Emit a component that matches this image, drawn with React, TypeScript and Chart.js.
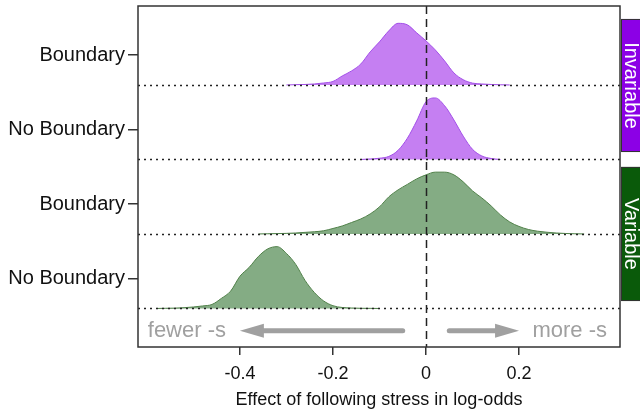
import React, { useEffect, useRef } from "react";
import { Chart, registerables } from "chart.js";

Chart.register(...registerables);

// ---- data ----
const ROW_LABELS = ["No Boundary", "Boundary", "No Boundary", "Boundary"]; // bottom -> top
const ROW_BASELINES = [0, 1, 2, 3];
const ROW_LABEL_POS = [0.4, 1.4, 2.4, 3.4];
const X_TICKS = [-0.4, -0.2, 0, 0.2];
const X_TICK_LABELS = ["-0.4", "-0.2", "0", "0.2"];

// Invariable, Boundary (row 3)
const invBoundaryX = [-0.3, -0.28, -0.26, -0.24, -0.22, -0.2, -0.18, -0.16, -0.14, -0.12, -0.1, -0.08, -0.06, -0.04, -0.02, 0, 0.02, 0.04, 0.06, 0.08, 0.1, 0.12, 0.14, 0.16, 0.18];
const invBoundaryD = [0, 0.005, 0.008, 0.016, 0.032, 0.057, 0.146, 0.227, 0.34, 0.535, 0.697, 0.875, 0.997, 0.972, 0.843, 0.713, 0.567, 0.389, 0.195, 0.085, 0.03, 0.016, 0.008, 0.003, 0];

// Invariable, No Boundary (row 2)
const invNoBoundaryX = [-0.14, -0.12, -0.1, -0.08, -0.06, -0.04, -0.02, 0, 0.02, 0.04, 0.06, 0.08, 0.1, 0.12, 0.14, 0.16];
const invNoBoundaryD = [0, 0.008, 0.02, 0.049, 0.148, 0.344, 0.623, 0.934, 0.995, 0.869, 0.639, 0.377, 0.164, 0.057, 0.016, 0];

// Variable, Boundary (row 1)
const varBoundaryX = [-0.36, -0.34, -0.32, -0.3, -0.28, -0.26, -0.24, -0.22, -0.2, -0.18, -0.16, -0.14, -0.12, -0.1, -0.08, -0.06, -0.04, -0.02, 0, 0.02, 0.04, 0.06, 0.08, 0.1, 0.12, 0.14, 0.16, 0.18, 0.2, 0.22, 0.24, 0.26, 0.28, 0.3, 0.32, 0.34];
const varBoundaryD = [0, 0.003, 0.006, 0.01, 0.016, 0.026, 0.036, 0.052, 0.089, 0.13, 0.186, 0.243, 0.324, 0.438, 0.6, 0.713, 0.802, 0.891, 0.956, 1, 1, 0.956, 0.843, 0.697, 0.583, 0.454, 0.308, 0.194, 0.122, 0.073, 0.045, 0.028, 0.016, 0.008, 0.003, 0];

// Variable, No Boundary (row 0)
const varNoBoundaryX = [-0.58, -0.56, -0.54, -0.52, -0.5, -0.48, -0.46, -0.44, -0.42, -0.4, -0.38, -0.36, -0.34, -0.32, -0.3, -0.28, -0.26, -0.24, -0.22, -0.2, -0.18, -0.16, -0.14, -0.12, -0.1];
const varNoBoundaryD = [0, 0.003, 0.006, 0.013, 0.024, 0.041, 0.065, 0.162, 0.28, 0.52, 0.665, 0.843, 0.964, 1, 0.891, 0.713, 0.454, 0.259, 0.122, 0.045, 0.016, 0.008, 0.003, 0.002, 0];

const FACETS = ["Invariable", "Variable"];
const FACET_SPANS = [[2.1, 3.886], [0.1, 1.9]];
const ARROW_Y = -0.3;
const LEFT_ARROW = [-0.05, -0.4];
const RIGHT_ARROW = [0.05, 0.2];
const FEWER_X = -0.598;
const MORE_X = 0.389;

const X_MIN = -0.619;
const X_MAX = 0.417;
const Y_MIN = -0.517;
const Y_MAX = 4.06;
const SCALE = 0.83;

const PURPLE_FILL = "rgba(140,0,230,0.5)";
const PURPLE_LINE = "#a24ee8";
const PURPLE_STRIP = "#8c00e6";
const GREEN_FILL = "rgba(10,90,10,0.5)";
const GREEN_LINE = "#4f8048";
const GREEN_STRIP = "#0a5a0a";
const FONT = "'Liberation Sans', Arial, Helvetica, sans-serif";

function ridge(xs: number[], ds: number[], base: number) {
  return xs.map((x, i) => ({ x, y: base + ds[i] * SCALE }));
}

const decor = {
  id: "ridgeDecor",
  afterDatasetsDraw(chart: any) {
    const { ctx, chartArea: a, scales } = chart;
    const xs = scales.x;
    const ys = scales.y;
    ctx.save();
    // dotted baselines
    ctx.setLineDash([2, 4]);
    ctx.lineWidth = 1.5;
    ctx.strokeStyle = "#222";
    for (const b of ROW_BASELINES) {
      const y = Math.round(ys.getPixelForValue(b)) + 0.5;
      ctx.beginPath();
      ctx.moveTo(a.left, y);
      ctx.lineTo(a.right, y);
      ctx.stroke();
    }
    // dashed zero line
    ctx.setLineDash([8, 5]);
    ctx.lineWidth = 1.5;
    const x0 = Math.round(xs.getPixelForValue(0)) + 0.5;
    ctx.beginPath();
    ctx.moveTo(x0, a.top);
    ctx.lineTo(x0, a.bottom);
    ctx.stroke();
    ctx.setLineDash([]);

    // arrows
    const ay = ys.getPixelForValue(ARROW_Y);
    const drawArrow = (from: number, to: number) => {
      const fx = xs.getPixelForValue(from);
      const tx = xs.getPixelForValue(to);
      const dir = Math.sign(tx - fx);
      const headLen = 24;
      ctx.strokeStyle = "#a0a0a0";
      ctx.fillStyle = "#a0a0a0";
      ctx.lineWidth = 5;
      ctx.lineCap = "round";
      ctx.beginPath();
      ctx.moveTo(fx, ay);
      ctx.lineTo(tx - dir * headLen * 0.8, ay);
      ctx.stroke();
      ctx.beginPath();
      ctx.moveTo(tx, ay);
      ctx.lineTo(tx - dir * headLen, ay - 7);
      ctx.lineTo(tx - dir * headLen, ay + 7);
      ctx.closePath();
      ctx.fill();
    };
    drawArrow(LEFT_ARROW[0], LEFT_ARROW[1]);
    drawArrow(RIGHT_ARROW[0], RIGHT_ARROW[1]);
    ctx.fillStyle = "#a0a0a0";
    ctx.font = `22px ${FONT}`;
    ctx.textBaseline = "middle";
    ctx.textAlign = "left";
    ctx.fillText("fewer -s", xs.getPixelForValue(FEWER_X), ay);
    ctx.textAlign = "right";
    ctx.fillText("more -s", xs.getPixelForValue(MORE_X), ay);

    // frame
    ctx.strokeStyle = "#333";
    ctx.lineWidth = 1.5;
    ctx.strokeRect(a.left, a.top, a.right - a.left, a.bottom - a.top);

    // facet strips
    FACETS.forEach((name, i) => {
      const [lo, hi] = FACET_SPANS[i];
      const top = ys.getPixelForValue(hi);
      const bot = ys.getPixelForValue(lo);
      const left = a.right + 1;
      const w = 26;
      ctx.fillStyle = i === 0 ? PURPLE_STRIP : GREEN_STRIP;
      ctx.fillRect(left, top, w, bot - top);
      ctx.strokeStyle = "#333";
      ctx.lineWidth = 1;
      ctx.strokeRect(left + 0.5, top + 0.5, w, bot - top - 1);
      ctx.save();
      ctx.translate(left + 10, (top + bot) / 2);
      ctx.rotate(Math.PI / 2);
      ctx.fillStyle = "#ffffff";
      ctx.font = `20px ${FONT}`;
      ctx.textAlign = "center";
      ctx.textBaseline = "middle";
      ctx.fillText(name, 0, 0);
      ctx.restore();
    });
    ctx.restore();
  },
};

export default function App() {
  const ref = useRef<HTMLCanvasElement | null>(null);
  useEffect(() => {
    if (!ref.current) return;
    const mk = (xs: number[], ds: number[], base: number, fill: string, line: string) => ({
      data: ridge(xs, ds, base),
      backgroundColor: fill,
      borderColor: line,
      borderWidth: 1,
      pointRadius: 0,
      tension: 0.4,
      cubicInterpolationMode: "monotone" as const,
      fill: { value: base },
      showLine: true,
    });
    const chart = new Chart(ref.current, {
      type: "line",
      data: {
        datasets: [
          mk(varNoBoundaryX, varNoBoundaryD, 0, GREEN_FILL, GREEN_LINE),
          mk(varBoundaryX, varBoundaryD, 1, GREEN_FILL, GREEN_LINE),
          mk(invNoBoundaryX, invNoBoundaryD, 2, PURPLE_FILL, PURPLE_LINE),
          mk(invBoundaryX, invBoundaryD, 3, PURPLE_FILL, PURPLE_LINE),
        ] as any,
      },
      options: {
        responsive: false,
        animation: false,
        layout: { padding: { top: 6, right: 20, left: 0, bottom: 0 } },
        plugins: { legend: { display: false }, tooltip: { enabled: false } },
        scales: {
          x: {
            type: "linear",
            min: X_MIN,
            max: X_MAX,
            afterBuildTicks: (s: any) => {
              s.ticks = X_TICKS.map((v) => ({ value: v }));
            },
            afterFit: (s: any) => {
              s.height = 66;
              s.paddingLeft = 0;
              s.paddingRight = 0;
            },
            ticks: {
              autoSkip: false,
              maxRotation: 0,
              padding: 8,
              color: "#111",
              font: { family: FONT, size: 18 },
              callback: (v: any) => {
                const i = X_TICKS.findIndex((t) => Math.abs(t - Number(v)) < 1e-9);
                return i >= 0 ? X_TICK_LABELS[i] : "";
              },
            },
            grid: { drawOnChartArea: false, drawTicks: true, tickLength: 8, tickColor: "#333", lineWidth: 1.5 },
            border: { display: false },
            title: {
              display: true,
              text: "Effect of following stress in log-odds",
              color: "#111",
              font: { family: FONT, size: 18 },
              padding: { top: 0, bottom: 2 },
            },
          },
          y: {
            type: "linear",
            min: Y_MIN,
            max: Y_MAX,
            afterBuildTicks: (s: any) => {
              s.ticks = ROW_LABEL_POS.map((v) => ({ value: v }));
            },
            afterFit: (s: any) => {
              s.width = 138;
              s.paddingTop = 0;
              s.paddingBottom = 0;
            },
            ticks: {
              autoSkip: false,
              padding: 3,
              color: "#111",
              font: { family: FONT, size: 20 },
              callback: (v: any) => {
                const i = ROW_LABEL_POS.findIndex((t) => Math.abs(t - Number(v)) < 1e-9);
                return i >= 0 ? ROW_LABELS[i] : "";
              },
            },
            grid: { drawOnChartArea: false, drawTicks: true, tickLength: 10, tickColor: "#333", lineWidth: 1.5 },
            border: { display: false },
          },
        },
      },
      plugins: [decor],
    });
    return () => chart.destroy();
  }, []);
  return (
    <div style={{ position: "fixed", left: 0, top: 0, width: 640, height: 413, background: "#fff" }}>
      <canvas ref={ref} width={640} height={413} />
    </div>
  );
}
